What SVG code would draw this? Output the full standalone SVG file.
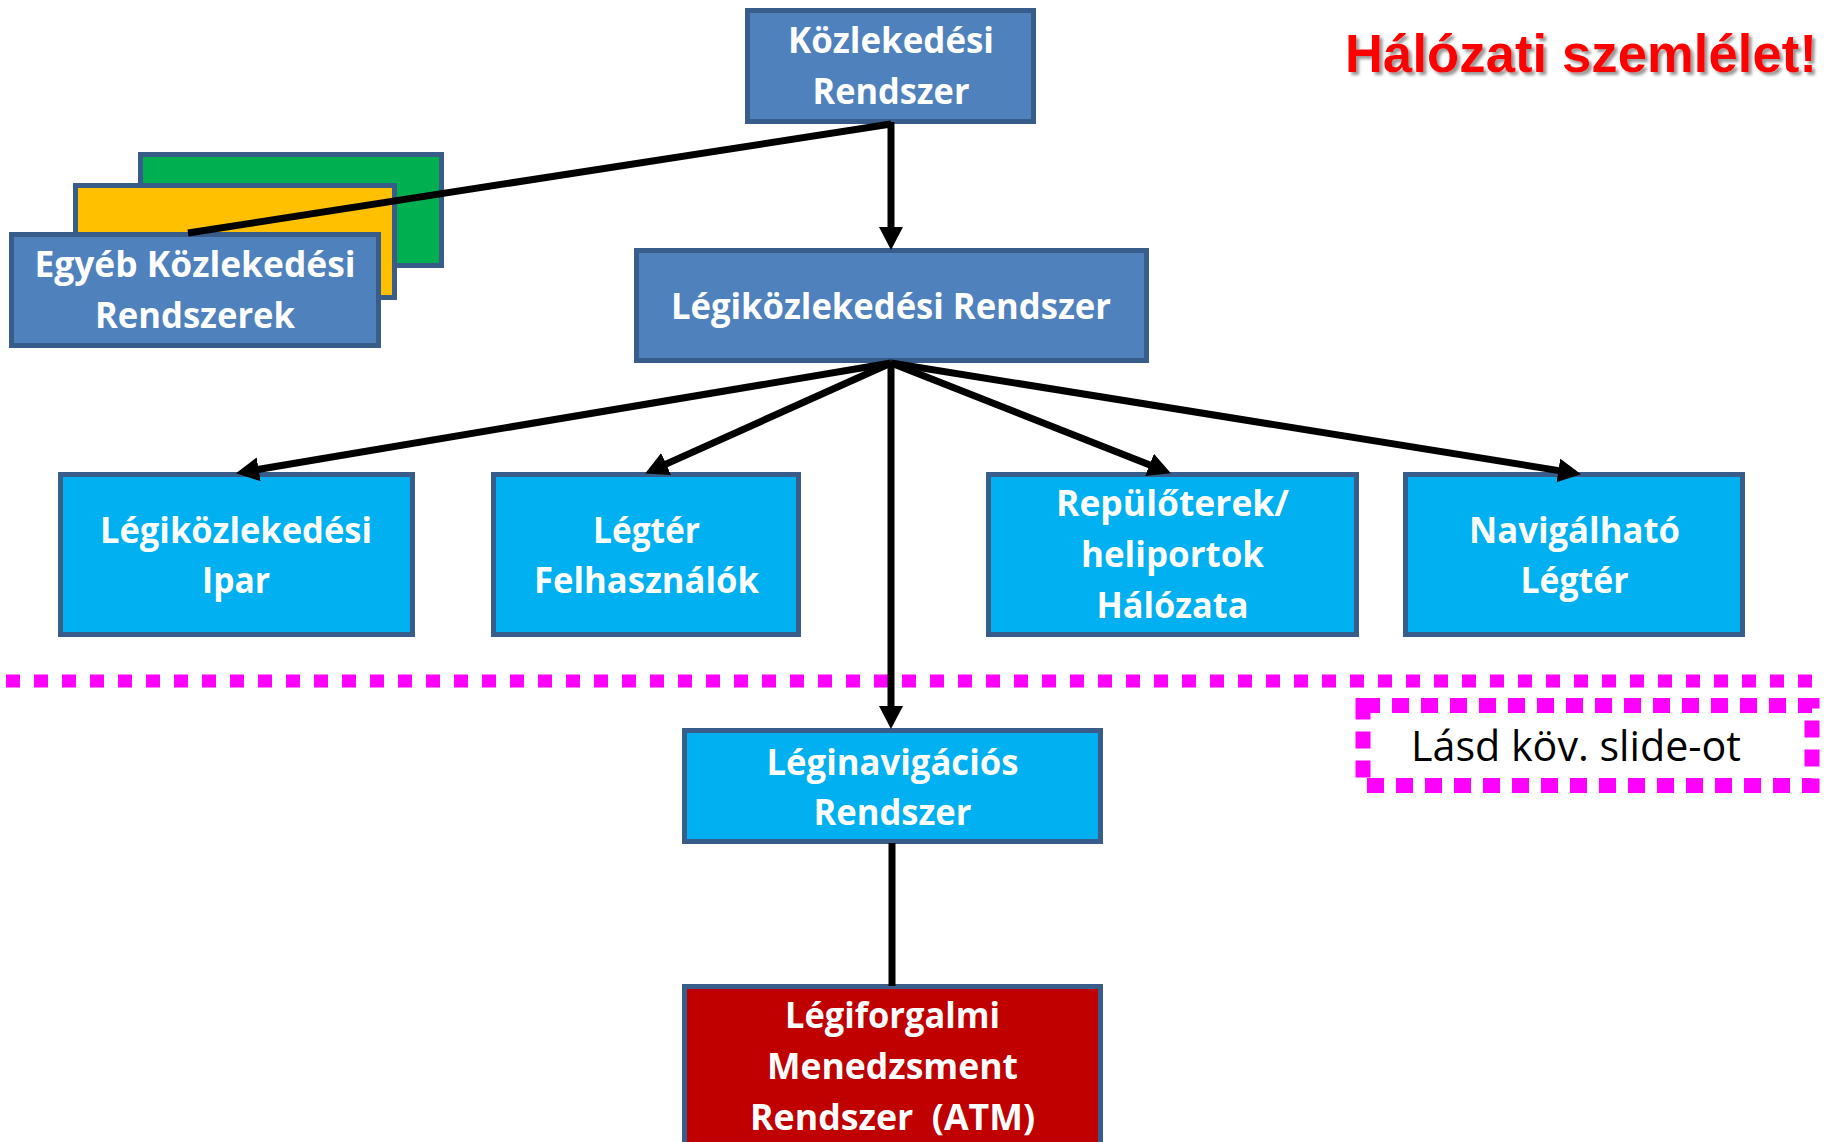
<svg xmlns="http://www.w3.org/2000/svg" width="1827" height="1142" viewBox="0 0 1827 1142">
<style>
  .box { stroke: #385D8A; stroke-width: 5; }
  .steel { fill: #4F81BD; }
  .sky { fill: #00B0F0; }
  .lbl { font-family: "Open Sans", "Noto Sans", "DejaVu Sans", sans-serif; font-weight: 700; font-size: 36px; fill: #FFFFFF; text-anchor: middle; }
  .con { stroke: #000000; stroke-width: 7; fill: none; }
  .note { font-family: "Open Sans", "Noto Sans", "DejaVu Sans", sans-serif; font-weight: 400; font-size: 42px; fill: #000000; text-anchor: middle; }
  .title { font-family: "Liberation Sans", Arial, sans-serif; font-weight: 700; font-size: 54px; fill: #FF0000; }
</style>
<defs>
  <marker id="arr" markerUnits="userSpaceOnUse" markerWidth="26" markerHeight="26" refX="10" refY="12" orient="auto">
    <path d="M0,0 L23,12 L0,24 z" fill="#000000"/>
  </marker>
  <filter id="shadow" x="-5%" y="-20%" width="110%" height="150%">
    <feDropShadow dx="3" dy="3" stdDeviation="1.5" flood-color="#7F7F7F" flood-opacity="0.8"/>
  </filter>
</defs>
<rect width="1827" height="1142" fill="#FFFFFF"/>

<text class="title" x="1345" y="72" textLength="472" lengthAdjust="spacingAndGlyphs" filter="url(#shadow)">Hálózati szemlélet!</text>

<g id="divider">
  <line x1="6" y1="681" x2="1818" y2="681" stroke="#FF00FF" stroke-width="13" stroke-dasharray="14 14"/>
</g>

<g id="node-kozlekedesi">
  <rect class="box steel" x="747.5" y="10.5" width="286" height="111"/>
  <text class="lbl" x="891" y="53" textLength="206" lengthAdjust="spacingAndGlyphs">Közlekedési</text>
  <text class="lbl" x="891" y="104" textLength="157" lengthAdjust="spacingAndGlyphs">Rendszer</text>
</g>

<g id="node-green">
  <rect class="box" fill="#00B050" x="140.5" y="154.5" width="301" height="111"/>
</g>
<g id="node-yellow">
  <rect class="box" fill="#FFC000" x="75.5" y="185.5" width="319" height="112"/>
</g>
<g id="node-egyeb">
  <rect class="box steel" x="11.5" y="234.5" width="367" height="111"/>
  <text class="lbl" x="195" y="277" textLength="321" lengthAdjust="spacingAndGlyphs">Egyéb Közlekedési</text>
  <text class="lbl" x="195" y="328" textLength="200" lengthAdjust="spacingAndGlyphs">Rendszerek</text>
</g>

<g id="node-legikozl-rendszer">
  <rect class="box steel" x="636.5" y="250.5" width="510" height="110"/>
  <text class="lbl" x="891" y="319" textLength="440" lengthAdjust="spacingAndGlyphs">Légiközlekedési Rendszer</text>
</g>

<g id="node-ipar">
  <rect class="box sky" x="60.5" y="474.5" width="352" height="160"/>
  <text class="lbl" x="236" y="543" textLength="272" lengthAdjust="spacingAndGlyphs">Légiközlekedési</text>
  <text class="lbl" x="236" y="593" textLength="68" lengthAdjust="spacingAndGlyphs">Ipar</text>
</g>

<g id="node-legter-felh">
  <rect class="box sky" x="493.5" y="474.5" width="305" height="160"/>
  <text class="lbl" x="646.5" y="543" textLength="107" lengthAdjust="spacingAndGlyphs">Légtér</text>
  <text class="lbl" x="646.5" y="593" textLength="225" lengthAdjust="spacingAndGlyphs">Felhasználók</text>
</g>

<g id="node-repuloterek">
  <rect class="box sky" x="988.5" y="474.5" width="368" height="160"/>
  <text class="lbl" x="1172.5" y="516" textLength="233" lengthAdjust="spacingAndGlyphs">Repülőterek/</text>
  <text class="lbl" x="1172.5" y="567" textLength="183" lengthAdjust="spacingAndGlyphs">heliportok</text>
  <text class="lbl" x="1172.5" y="618" textLength="152" lengthAdjust="spacingAndGlyphs">Hálózata</text>
</g>

<g id="node-navigalhato">
  <rect class="box sky" x="1405.5" y="474.5" width="337" height="160"/>
  <text class="lbl" x="1574.5" y="543" textLength="211" lengthAdjust="spacingAndGlyphs">Navigálható</text>
  <text class="lbl" x="1574.5" y="593" textLength="108" lengthAdjust="spacingAndGlyphs">Légtér</text>
</g>

<g id="node-lasd">
  <rect x="1363" y="705.5" width="449" height="80" fill="none" stroke="#FF00FF" stroke-width="15" stroke-dasharray="17 12"/>
  <text class="note" x="1576" y="761" textLength="330" lengthAdjust="spacingAndGlyphs">Lásd köv. slide-ot</text>
</g>

<g id="node-leginav">
  <rect class="box sky" x="684.5" y="730.5" width="416" height="111"/>
  <text class="lbl" x="892.5" y="775" textLength="252" lengthAdjust="spacingAndGlyphs">Léginavigációs</text>
  <text class="lbl" x="892.5" y="825" textLength="158" lengthAdjust="spacingAndGlyphs">Rendszer</text>
</g>

<g id="node-atm">
  <rect class="box" fill="#C00000" x="684.5" y="986.5" width="416" height="170"/>
  <text class="lbl" x="892.5" y="1028" textLength="215" lengthAdjust="spacingAndGlyphs">Légiforgalmi</text>
  <text class="lbl" x="892.5" y="1079" textLength="251" lengthAdjust="spacingAndGlyphs">Menedzsment</text>
  <text class="lbl" x="892.5" y="1130" textLength="285" lengthAdjust="spacingAndGlyphs" xml:space="preserve">Rendszer  (ATM)</text>
</g>

<g id="connectors">
  <line class="con" x1="891" y1="124" x2="188" y2="233" stroke-width="7"/>
  <line class="con" x1="891" y1="122" x2="891" y2="237" stroke-width="5" marker-end="url(#arr)"/>
  <line class="con" x1="891" y1="363" x2="248.8" y2="471.0" marker-end="url(#arr)"/>
  <line class="con" x1="891" y1="363" x2="657.0" y2="468.1" marker-end="url(#arr)"/>
  <line class="con" x1="891" y1="363" x2="1158.8" y2="468.6" marker-end="url(#arr)"/>
  <line class="con" x1="891" y1="363" x2="1568.2" y2="472.1" marker-end="url(#arr)"/>
  <line class="con" x1="891" y1="363" x2="891" y2="716" stroke-width="5.5" marker-end="url(#arr)"/>
  <line class="con" x1="892" y1="843" x2="892" y2="986" stroke-width="6"/>
</g>
</svg>
